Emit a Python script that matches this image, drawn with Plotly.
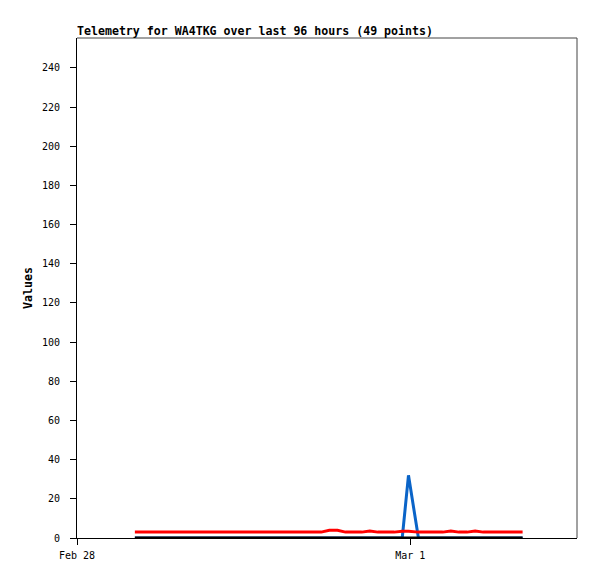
import plotly.graph_objects as go

times = [
    "2024-02-28 04:10", "2024-02-28 04:45", "2024-02-28 05:20", "2024-02-28 05:55",
    "2024-02-28 06:30", "2024-02-28 07:05", "2024-02-28 07:40", "2024-02-28 08:15",
    "2024-02-28 08:50", "2024-02-28 09:25", "2024-02-28 10:00", "2024-02-28 10:35",
    "2024-02-28 11:10", "2024-02-28 11:45", "2024-02-28 12:20", "2024-02-28 12:55",
    "2024-02-28 13:30", "2024-02-28 14:05", "2024-02-28 14:40", "2024-02-28 15:15",
    "2024-02-28 15:50", "2024-02-28 16:25", "2024-02-28 17:00", "2024-02-28 17:35",
    "2024-02-28 18:10", "2024-02-28 18:45", "2024-02-28 19:20", "2024-02-28 19:55",
    "2024-02-28 20:30", "2024-02-28 21:05", "2024-02-28 21:40", "2024-02-28 22:15",
    "2024-02-28 22:50", "2024-02-28 23:25", "2024-02-28 23:52", "2024-02-29 00:35",
    "2024-02-29 01:10", "2024-02-29 01:45", "2024-02-29 02:20", "2024-02-29 02:55",
    "2024-02-29 03:30", "2024-02-29 04:05", "2024-02-29 04:40", "2024-02-29 05:15",
    "2024-02-29 05:50", "2024-02-29 06:25", "2024-02-29 07:00", "2024-02-29 07:35",
    "2024-02-29 08:05",
]

red_values = [3, 3, 3, 3, 3, 3, 3, 3, 3, 3,
              3, 3, 3, 3, 3, 3, 3, 3, 3, 3,
              3, 3, 3, 3, 4, 4, 3, 3, 3, 3.6,
              3, 3, 3, 3.5, 3.5, 3, 3, 3, 3, 3.6,
              3, 3, 3.6, 3, 3, 3, 3, 3, 3]

blue_values = [0, 0, 0, 0, 0, 0, 0, 0, 0, 0,
               0, 0, 0, 0, 0, 0, 0, 0, 0, 0,
               0, 0, 0, 0, 0, 0, 0, 0, 0, 0,
               0, 0, 0, 0, 32, 0, 0, 0, 0, 0,
               0, 0, 0, 0, 0, 0, 0, 0, 0]

black_values = [0] * 49

x_range = ["2024-02-28 00:00", "2024-02-29 12:00"]
x_tickvals = ["2024-02-28 00:00", "2024-02-29 00:00"]
x_ticktext = ["Feb 28", "Mar 1"]
y_tickvals = [0, 20, 40, 60, 80, 100, 120, 140, 160, 180, 200, 220, 240]

fig = go.Figure()
fig.add_trace(go.Scatter(x=times, y=blue_values, mode="lines",
                         line=dict(color="#0A64C8", width=3), showlegend=False))
fig.add_trace(go.Scatter(x=times, y=black_values, mode="lines",
                         line=dict(color="black", width=3), showlegend=False))
fig.add_trace(go.Scatter(x=times, y=red_values, mode="lines",
                         line=dict(color="#FF0000", width=3), showlegend=False))

mono = "DejaVu Sans Mono"
fig.update_layout(
    width=597, height=579,
    margin=dict(l=69, r=28, t=30, b=49),
    paper_bgcolor="white", plot_bgcolor="white",
    title=dict(text="<b>Telemetry for WA4TKG over last 96 hours (49 points)</b>",
               x=69/597, xanchor="left", y=1-27/579, yanchor="bottom",
               font=dict(family=mono, size=11.6, color="black")),
    xaxis=dict(range=x_range, tickvals=x_tickvals, ticktext=x_ticktext,
               showgrid=False, zeroline=False, showline=True, linecolor="black",
               linewidth=1, mirror=False, ticks="outside", ticklen=6,
               ticklabelstandoff=2,
               tickcolor="black", tickfont=dict(family=mono, size=10, color="black")),
    yaxis=dict(range=[0, 255.3], tickvals=y_tickvals,
               showgrid=False, zeroline=False, showline=True, linecolor="black",
               linewidth=1, ticks="outside", ticklen=6, tickcolor="black",
               ticklabelstandoff=8,
               tickfont=dict(family=mono, size=10, color="black"),
               title=dict(text="<b>Values</b>", standoff=6,
                          font=dict(family=mono, size=11.6, color="black"))),
    shapes=[
        dict(type="line", xref="paper", yref="paper", x0=0, x1=1, y0=1, y1=1,
             line=dict(color="#444444", width=1)),
        dict(type="line", xref="paper", yref="paper", x0=1, x1=1, y0=0, y1=1,
             line=dict(color="#444444", width=1)),
    ],
)

fig.write_html("out.html")
